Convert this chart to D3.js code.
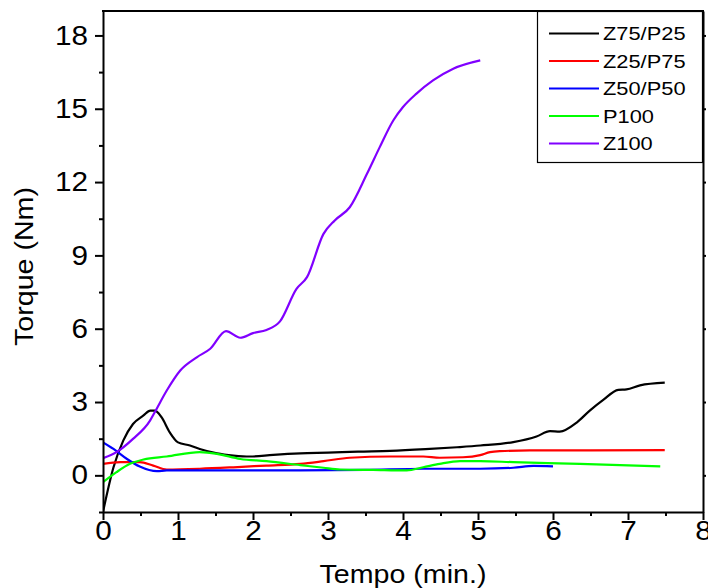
<!DOCTYPE html>
<html>
<head>
<meta charset="utf-8">
<script src="https://cdn.jsdelivr.net/npm/d3@7"></script>
<style>
  body { margin: 0; background: #fff; }
  text { font-family: "Liberation Sans", Arial, sans-serif; }
</style>
</head>
<body>
<svg id="chart" width="708" height="588"></svg>
<script>
// series names + colours
var seriesNames = ['Z75/P25', 'Z25/P75', 'Z50/P50', 'P100', 'Z100']
var seriesColors = ['#000000', '#ff0000', '#0000ff', '#00ff00', '#8000ff']

// time (min.) and torque (Nm)
var tZ75 = [0, 0.14, 0.27, 0.40, 0.54, 0.63, 0.69, 0.78, 0.89, 1.0, 1.16, 1.29, 1.52, 1.74, 1.96, 2.27, 2.63, 3.0, 3.4, 3.83, 4.3, 4.72, 5.03, 5.47, 5.78, 5.96, 6.09, 6.32, 6.49, 6.67, 6.87, 6.98, 7.16, 7.49]
var vZ75 = [-1.5, 0.33, 1.42, 2.1, 2.45, 2.65, 2.65, 2.38, 1.76, 1.35, 1.22, 1.08, 0.9, 0.81, 0.77, 0.84, 0.9, 0.93, 0.97, 1.0, 1.07, 1.15, 1.22, 1.36, 1.59, 1.81, 1.79, 2.17, 2.65, 3.09, 3.5, 3.52, 3.68, 3.79]

var tZ25 = [0, 0.23, 0.49, 0.67, 0.85, 1.29, 1.74, 2.18, 2.63, 2.94, 3.29, 3.83, 4.27, 4.49, 4.8, 5.03, 5.16, 5.29, 5.69, 6.5, 7.49]
var vZ25 = [0.47, 0.54, 0.54, 0.4, 0.24, 0.27, 0.33, 0.4, 0.47, 0.58, 0.72, 0.77, 0.77, 0.72, 0.74, 0.83, 0.95, 0.99, 1.02, 1.02, 1.03]

var tZ50 = [0, 0.14, 0.32, 0.49, 0.72, 0.85, 1.29, 2.63, 3.5, 4.27, 5.03, 5.47, 5.74, 6.0]
var vZ50 = [1.35, 1.08, 0.67, 0.36, 0.17, 0.2, 0.2, 0.2, 0.22, 0.27, 0.27, 0.31, 0.39, 0.37]

var tP100 = [0, 0.18, 0.36, 0.54, 0.85, 1.29, 1.52, 1.83, 2.18, 2.63, 2.94, 3.16, 3.6, 4.05, 4.27, 4.49, 4.76, 5.03, 5.47, 6.36, 7.43]
var vP100 = [-0.28, 0.13, 0.47, 0.65, 0.77, 0.95, 0.88, 0.67, 0.58, 0.42, 0.31, 0.24, 0.22, 0.2, 0.33, 0.47, 0.58, 0.58, 0.54, 0.47, 0.37]

var tZ100 = [0, 0.18, 0.40, 0.627, 0.69, 0.85, 1.03, 1.25, 1.43, 1.64, 1.83, 2.0, 2.18, 2.36, 2.58, 2.72, 2.94, 3.09, 3.29, 3.52, 3.69, 3.87, 4.0, 4.18, 4.40, 4.67, 5.03]
var vZ100 = [0.7, 0.95, 1.49, 2.24, 2.58, 3.47, 4.29, 4.83, 5.18, 5.9, 5.63, 5.82, 5.95, 6.3, 7.63, 8.11, 9.88, 10.43, 10.97, 12.34, 13.43, 14.52, 15.07, 15.62, 16.16, 16.64, 16.98]

var xTicks = [0, 1, 2, 3, 4, 5, 6, 7, 8]
var yTicks = [0, 3, 6, 9, 12, 15, 18]

var times = [tZ75, tZ25, tZ50, tP100, tZ100]
var values = [vZ75, vZ25, vZ50, vP100, vZ100]

var svg = d3.select('#chart')

// plot box (window.top is taken, so no plain "top")
var padL = 103, padT = 11, padR = 703, padB = 512

var x = d3.scaleLinear().domain([0, 8]).range([padL, padR])
var y = d3.scaleLinear().domain([-1.5, 19]).range([padB, padT])

// stretch text a bit wider, the reference font runs wide
function widen(sel, k) {
  sel.each(function () {
    var w = this.getComputedTextLength()
    d3.select(this).attr('textLength', w * k).attr('lengthAdjust', 'spacingAndGlyphs')
  })
}

svg.append('clipPath').attr('id', 'plotclip')
  .append('rect')
    .attr('x', padL).attr('y', padT)
    .attr('width', padR - padL).attr('height', padB - padT)

var line = d3.line()
  .x(function (d) { return x(d[0]) })
  .y(function (d) { return y(d[1]) })
  .curve(d3.curveMonotoneX)

var lines = svg.append('g').attr('clip-path', 'url(#plotclip)')

for (let i = 0; i < seriesNames.length; i++) {
  var pts = times[i].map(function (t, j) { return [t, values[i][j]] })
  lines.append('path')
    .datum(pts)
    .attr('d', line)
    .attr('fill', 'none')
    .attr('stroke', seriesColors[i])
    .attr('stroke-width', 2.2)
    .attr('stroke-linejoin', 'round')
}

// minor ticks first, majors on top
var xMinor = d3.range(0.5, 8, 1)
var yMinor = d3.range(-1.5, 19, 3)

svg.append('g')
  .attr('transform', 'translate(0,' + padB + ')')
  .call(d3.axisBottom(x).tickValues(xMinor).tickSize(4).tickFormat(''))
  .call(function (g) { g.select('.domain').remove() })
  .selectAll('line').attr('stroke-width', 2)

svg.append('g')
  .attr('transform', 'translate(' + padL + ',0)')
  .call(d3.axisLeft(y).tickValues(yMinor).tickSize(4).tickFormat(''))
  .call(function (g) { g.select('.domain').remove() })
  .selectAll('line').attr('stroke-width', 2)

var xAxis = svg.append('g')
  .attr('transform', 'translate(0,' + padB + ')')
  .call(d3.axisBottom(x).tickValues(xTicks).tickSize(8).tickSizeOuter(0).tickPadding(1))
xAxis.selectAll('line').attr('stroke-width', 2)
xAxis.select('.domain').attr('stroke-width', 2)
xAxis.selectAll('text').attr('font-size', 27).attr('fill', '#000')
  .attr('font-family', '"Liberation Sans", Arial, sans-serif')

var yAxis = svg.append('g')
  .attr('transform', 'translate(' + padL + ',0)')
  .call(d3.axisLeft(y).tickValues(yTicks).tickSize(8).tickSizeOuter(0).tickPadding(7))
yAxis.selectAll('line').attr('stroke-width', 2)
yAxis.select('.domain').attr('stroke-width', 2)
yAxis.selectAll('text').attr('font-size', 27).attr('fill', '#000')
  .attr('font-family', '"Liberation Sans", Arial, sans-serif')

widen(xAxis.selectAll('text'), 1.1)
widen(yAxis.selectAll('text'), 1.1)

// top + right frame
var rAxis = svg.append('g')
  .attr('transform', 'translate(' + padR + ',0)')
  .call(d3.axisRight(y).tickValues(yTicks).tickSize(3).tickSizeOuter(0).tickFormat(''))
rAxis.selectAll('line').attr('stroke-width', 2)
rAxis.select('.domain').attr('stroke-width', 2)

svg.append('line')
  .attr('x1', padL - 1).attr('x2', padR + 1)
  .attr('y1', padT).attr('y2', padT)
  .attr('stroke', '#000').attr('stroke-width', 2)

// axis titles
var xt = svg.append('text')
  .attr('x', (padL + padR) / 2).attr('y', 583)
  .attr('text-anchor', 'middle')
  .attr('font-size', 26)
  .text('Tempo (min.)')
widen(xt, 1.1)

var yt = svg.append('text')
  .attr('transform', 'translate(33,' + ((padT + padB) / 2 + 5) + ') rotate(-90)')
  .attr('text-anchor', 'middle')
  .attr('font-size', 26)
  .text('Torque (Nm)')
widen(yt, 1.1)

// legend box
var lg = svg.append('g')
lg.append('rect')
  .attr('x', 537.5).attr('y', 11.5)
  .attr('width', 165).attr('height', 151)
  .attr('fill', '#fff').attr('stroke', '#000').attr('stroke-width', 1.2)

var rows = lg.selectAll('g.row')
  .data(seriesNames)
  .enter().append('g')
    .attr('class', 'row')
    .attr('transform', function (d, i) { return 'translate(0,' + (33.5 + i * 27.5) + ')' })

rows.append('line')
  .attr('x1', 549).attr('x2', 599)
  .attr('stroke', function (d, i) { return seriesColors[i] })
  .attr('stroke-width', 2.2)

var lt = rows.append('text')
  .attr('x', 603).attr('dy', '0.36em')
  .attr('font-size', 18.5)
  .text(function (d) { return d })
widen(lt, 1.18)
</script>
</body>
</html>
